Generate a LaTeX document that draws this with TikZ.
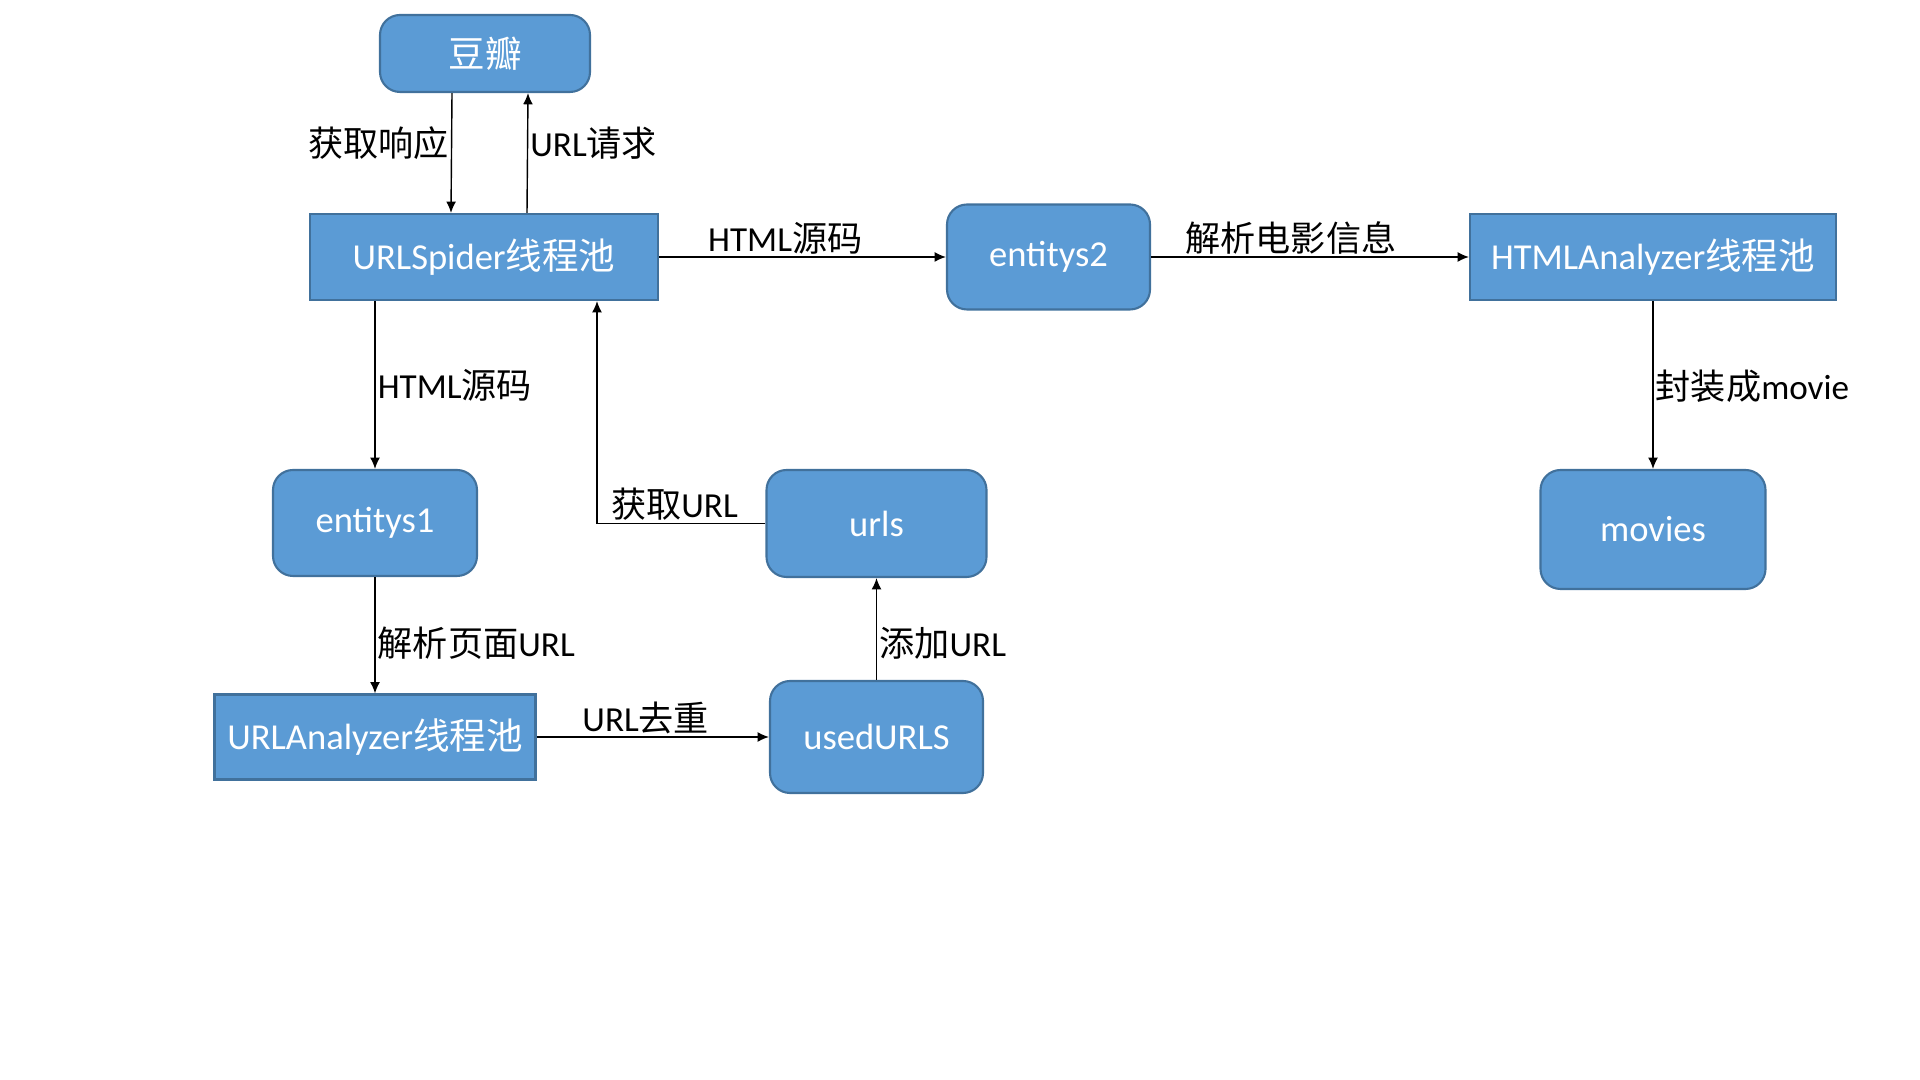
\documentclass[tikz,border=0pt]{standalone}
\usepackage{fontspec}
\setmainfont{Carlito}
\newfontfamily\zhfont{Noto Sans CJK SC}
\newcommand{\zh}[1]{{\zhfont #1}}
\usepackage{tikz}
\usetikzlibrary{positioning,arrows.meta}
\definecolor{boxblue}{HTML}{5B9BD5}
\definecolor{boxline}{HTML}{41719C}

\begin{document}
\begin{tikzpicture}[
        pool/.style={draw=boxline, fill=boxblue, line width=0.6pt, text=white,
            font=\fontsize{10.4}{12}\selectfont, inner sep=0pt},
        store/.style={pool, rounded corners=0.2cm},
        flow/.style={-{Latex[length=3.2pt,width=2.8pt]}, line width=0.4pt},
        lbl/.style={font=\fontsize{10}{12}\selectfont, inner sep=0.6pt}
    ]
        \useasboundingbox (0,0) rectangle (19.2,10.8);

        %% Boxes
        \node[store, minimum width=2.10cm, minimum height=0.77cm] (douban) at (4.85,10.265) {\zh{豆瓣}};
        \node[pool, minimum width=3.48cm, minimum height=0.86cm] (spider) at (4.84,8.23) {URLSpider\zh{线程池}};
        \node[store, minimum width=2.03cm, minimum height=1.05cm] (ent2) at (10.485,8.23) {entitys2};
        \node[pool, minimum width=3.66cm, minimum height=0.86cm] (htmlpool) at (16.53,8.23) {HTMLAnalyzer\zh{线程池}};
        \node[store, minimum width=2.04cm, minimum height=1.06cm] (ent1) at (3.75,5.57) {entitys1};
        \node[store, minimum width=2.20cm, minimum height=1.07cm] (urls) at (8.765,5.565) {urls};
        \node[store, minimum width=2.25cm, minimum height=1.19cm] (movies) at (16.53,5.505) {movies};
        \node[pool, minimum width=3.21cm, minimum height=0.85cm] (urlpool) at (3.75,3.43) {URLAnalyzer\zh{线程池}};
        \node[store, minimum width=2.13cm, minimum height=1.12cm] (used) at (8.765,3.43) {usedURLS};

        %% Flows
        \draw[flow] ([xshift=-0.33cm]douban.south) -- node[lbl, left, pos=0.42] {\zh{获取响应}} ([xshift=-0.33cm]spider.north);
        \draw[flow] ([xshift=0.43cm]spider.north) -- node[lbl, right, pos=0.58] {URL\zh{请求}} ([xshift=0.43cm]douban.south);
        \draw[flow] (spider.east) -- node[lbl, above, pos=0.44] {HTML\zh{源码}} (ent2.west);
        \draw[flow] (ent2.east) -- node[lbl, above, pos=0.44] {\zh{解析电影信息}} (htmlpool.west);
        \draw[flow] (spider.south -| ent1.north) -- node[lbl, right] {HTML\zh{源码}} (ent1.north);
        \draw[flow] (urls.west) -| node[lbl, above, pos=0.27] {\zh{获取}URL} ([xshift=1.13cm]spider.south);
        \draw[flow] (ent1.south) -- node[lbl, right, pos=0.57] {\zh{解析页面}URL} (urlpool.north);
        \draw[flow] (urlpool.east) -- node[lbl, above, pos=0.47] {URL\zh{去重}} (used.west);
        \draw[flow] (used.north) -- node[lbl, right, pos=0.36] {\zh{添加}URL} (urls.south);
        \draw[flow] (htmlpool.south) -- node[lbl, right, pos=0.51] {\zh{封装成}movie} (movies.north);
    \end{tikzpicture}
\end{document}
